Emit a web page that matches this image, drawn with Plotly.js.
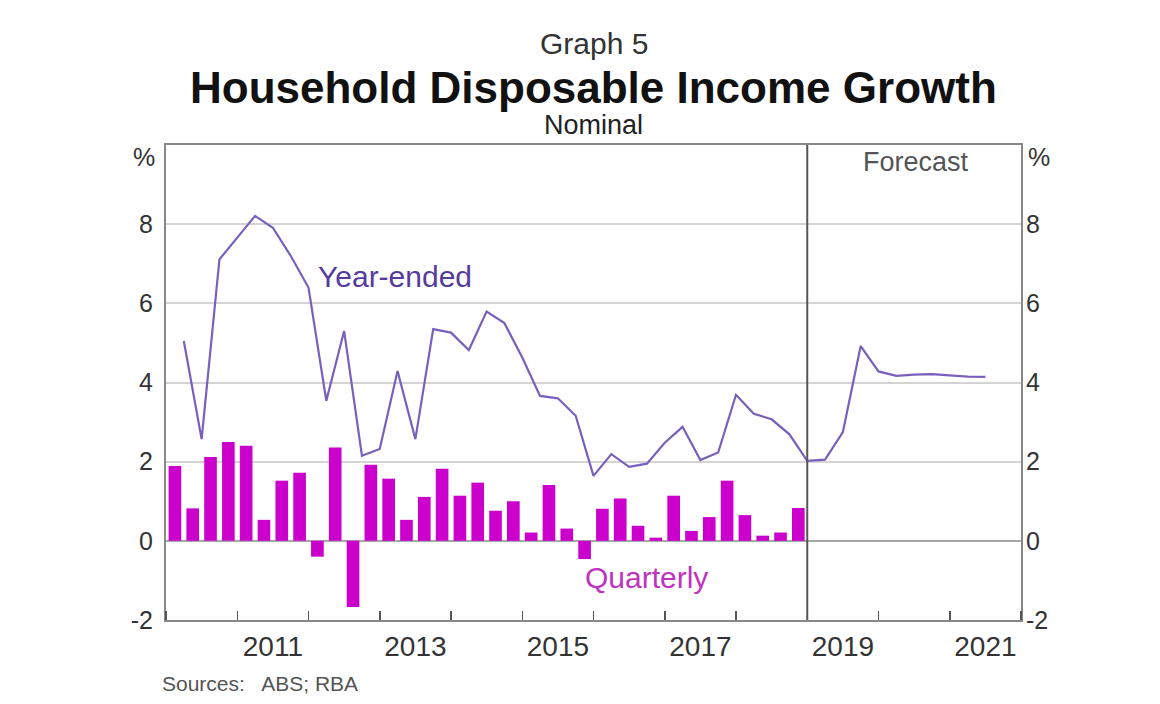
<!DOCTYPE html>
<html>
<head>
<meta charset="utf-8">
<script src="https://cdn.plot.ly/plotly-3.0.1.min.js"></script>
<style>
  html, body { margin: 0; padding: 0; background: #ffffff; }
  #chart { width: 1160px; height: 704px; }
</style>
</head>
<body>
<div id="chart"></div>
<script>
// Quarters of the historical data (March quarter 2010 to December quarter 2018)
const quarters = [
  "2010Q1","2010Q2","2010Q3","2010Q4",
  "2011Q1","2011Q2","2011Q3","2011Q4",
  "2012Q1","2012Q2","2012Q3","2012Q4",
  "2013Q1","2013Q2","2013Q3","2013Q4",
  "2014Q1","2014Q2","2014Q3","2014Q4",
  "2015Q1","2015Q2","2015Q3","2015Q4",
  "2016Q1","2016Q2","2016Q3","2016Q4",
  "2017Q1","2017Q2","2017Q3","2017Q4",
  "2018Q1","2018Q2","2018Q3","2018Q4"
];
// Quarterly growth, %
const quarterly = [
  1.89, 0.82, 2.12, 2.50,
  2.40, 0.53, 1.52, 1.72,
  -0.40, 2.36, -1.67, 1.92,
  1.57, 0.53, 1.11, 1.82,
  1.14, 1.47, 0.76, 1.00,
  0.21, 1.41, 0.31, -0.46,
  0.81, 1.07, 0.38, 0.08,
  1.14, 0.25, 0.60, 1.52,
  0.65, 0.13, 0.21, 0.83
];
// Year-ended growth, %
const yearEnded = [
  5.05, 2.57, 7.11, 7.65,
  8.21, 7.91, 7.20, 6.40,
  3.54, 5.30, 2.15, 2.32,
  4.29, 2.57, 5.35, 5.26,
  4.82, 5.79, 5.50, 4.63,
  3.66, 3.60, 3.16, 1.64,
  2.19, 1.87, 1.95, 2.48,
  2.88, 2.04, 2.23, 3.69,
  3.21, 3.07, 2.69, 2.02
];
// Forecast quarters and year-ended forecast, %
const forecastQuarters = [
  "2019Q1","2019Q2","2019Q3","2019Q4",
  "2020Q1","2020Q2","2020Q3","2020Q4",
  "2021Q1","2021Q2"
];
const yearEndedForecast = [2.05, 2.75, 4.92, 4.28, 4.17, 4.20, 4.21, 4.18, 4.15, 4.14];

// Axis labels
const yearLabels = ["2011", "2013", "2015", "2017", "2019", "2021"];
const yTicks = [-2, 0, 2, 4, 6, 8];
const yTickText = ["-2", "0", "2", "4", "6", "8"];
const forecastStart = 2019;

// helpers: quarter label -> numeric year position
function qYear(q) { return parseInt(q.slice(0, 4), 10); }
function qNum(q) { return parseInt(q.slice(5), 10); }
const barX = quarters.map(q => qYear(q) + (qNum(q) - 0.5) / 4);   // mid-quarter
const lineQuarters = quarters.concat(forecastQuarters);
const lineX = lineQuarters.map(q => qYear(q) + qNum(q) / 4);        // quarter end
const lineY = yearEnded.concat(yearEndedForecast);

const yearTickVals = [];
for (let y = 2010; y <= 2022; y++) yearTickVals.push(y);
const labelVals = yearLabels.map(s => parseInt(s, 10) + 0.5);

const FONT = "Liberation Sans, Arial, sans-serif";
const BAR = "#cc00cc";
const LINE = "#7860bd";

const traces = [
  {
    type: "bar", x: barX, y: quarterly, name: "Quarterly",
    marker: { color: BAR, line: { width: 0 } },
    hoverinfo: "skip"
  },
  {
    type: "scatter", mode: "lines", x: lineX, y: lineY, name: "Year-ended",
    line: { color: LINE, width: 2.2 },
    hoverinfo: "skip"
  },
  { type: "scatter", x: [], y: [], xaxis: "x", yaxis: "y2", showlegend: false }
];

const layout = {
  width: 1160, height: 704,
  paper_bgcolor: "#ffffff", plot_bgcolor: "#ffffff",
  margin: { l: 166, r: 139, t: 145, b: 84 },
  showlegend: false,
  bargap: 0.29,
  font: { family: FONT, color: "#333" },
  xaxis: {
    range: [2010, 2022], fixedrange: true,
    tickmode: "array", tickvals: labelVals, ticktext: yearLabels,
    ticks: "", ticklabelstandoff: 0,
    tickfont: { size: 28, color: "#333", family: FONT },
    minor: { tickmode: "array", tickvals: yearTickVals, ticks: "inside", ticklen: 9, tickwidth: 1.5, tickcolor: "#555", showgrid: false },
    showgrid: false, zeroline: false,
    showline: true, linecolor: "#888", linewidth: 2, mirror: true
  },
  yaxis: {
    range: [-2, 10], fixedrange: true,
    tickmode: "array", tickvals: yTicks, ticktext: yTickText,
    ticks: "", ticklabelstandoff: 6,
    tickfont: { size: 25, color: "#333", family: FONT },
    showgrid: true, gridcolor: "#d4d4d4", gridwidth: 2,
    zeroline: true, zerolinecolor: "#a8a8a8", zerolinewidth: 2,
    showline: true, linecolor: "#888", linewidth: 2, mirror: true
  },
  yaxis2: {
    range: [-2, 10], fixedrange: true, overlaying: "y", side: "right",
    tickmode: "array", tickvals: yTicks, ticktext: yTickText,
    ticks: "", ticklabelstandoff: 4,
    tickfont: { size: 25, color: "#333", family: FONT },
    showgrid: false, zeroline: false, showline: false
  },
  shapes: [
    { type: "line", xref: "x", yref: "paper", x0: forecastStart, x1: forecastStart, y0: 0, y1: 1,
      line: { color: "#555", width: 2 } }
  ],
  annotations: [
    { text: "Graph 5", xref: "paper", yref: "paper", x: 0.5, y: 1.2147, xanchor: "center", yanchor: "middle",
      showarrow: false, font: { family: FONT, size: 30, color: "#333" } },
    { text: "<b>Household Disposable Income Growth</b>", xref: "paper", yref: "paper", x: 0.5, y: 1.12, xanchor: "center", yanchor: "middle",
      showarrow: false, font: { family: FONT, size: 44, color: "#111" } },
    { text: "Nominal", xref: "paper", yref: "paper", x: 0.5, y: 1.042, xanchor: "center", yanchor: "middle",
      showarrow: false, font: { family: FONT, size: 27, color: "#222" } },
    { text: "%", xref: "paper", yref: "paper", x: -0.011, y: 0.975, xanchor: "right", yanchor: "middle",
      showarrow: false, font: { family: FONT, size: 25, color: "#333" } },
    { text: "%", xref: "paper", yref: "paper", x: 1.006, y: 0.975, xanchor: "left", yanchor: "middle",
      showarrow: false, font: { family: FONT, size: 25, color: "#333" } },
    { text: "Forecast", xref: "x", yref: "y", x: 2020.53, y: 9.57, xanchor: "center", yanchor: "middle",
      showarrow: false, font: { family: FONT, size: 27, color: "#555" } },
    { text: "Year-ended", xref: "x", yref: "y", x: 2013.22, y: 6.69, xanchor: "center", yanchor: "middle",
      showarrow: false, font: { family: FONT, size: 30, color: "#543b9c" } },
    { text: "Quarterly", xref: "x", yref: "y", x: 2016.74, y: -0.93, xanchor: "center", yanchor: "middle",
      showarrow: false, font: { family: FONT, size: 30, color: "#c032c0" } },
    { text: "Sources:   ABS; RBA", xref: "paper", yref: "paper", x: -0.007, y: -0.133, xanchor: "left", yanchor: "middle",
      showarrow: false, font: { family: FONT, size: 21, color: "#555" } }
  ]
};

Plotly.newPlot("chart", traces, layout, { staticPlot: true, displayModeBar: false });
</script>
</body>
</html>
